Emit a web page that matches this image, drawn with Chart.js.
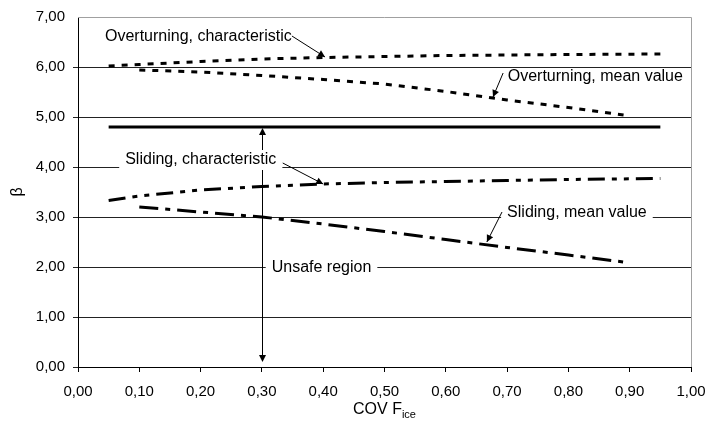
<!DOCTYPE html>
<html>
<head>
<meta charset="utf-8">
<script src="https://cdn.jsdelivr.net/npm/chart.js@4.4.1/dist/chart.umd.min.js"></script>
<style>
  html, body { margin: 0; padding: 0; background: #fff; }
  #wrap { width: 706px; height: 427px; }
</style>
</head>
<body>
<div id="wrap"><canvas id="c" width="706" height="427"></canvas></div>
<script>
// values
const xTicks = [0, 0.1, 0.2, 0.3, 0.4, 0.5, 0.6, 0.7, 0.8, 0.9, 1.0];
const yTicks = [0, 1, 2, 3, 4, 5, 6, 7];

const covOverChar = [0.05, 0.10, 0.20, 0.30, 0.40, 0.50, 0.60, 0.70, 0.80, 0.95];
const overChar    = [6.02, 6.05, 6.11, 6.16, 6.19, 6.21, 6.23, 6.24, 6.25, 6.26];

const covOverMean = [0.10, 0.20, 0.30, 0.40, 0.50, 0.60, 0.70, 0.80, 0.89];
const overMean    = [5.94, 5.90, 5.83, 5.75, 5.66, 5.51, 5.34, 5.19, 5.04];

const covTarget = [0.05, 0.95];
const target    = [4.80, 4.80];

const covSlideChar = [0.05, 0.10, 0.20, 0.30, 0.40, 0.50, 0.60, 0.70, 0.80, 0.95];
const slideChar    = [3.33, 3.42, 3.54, 3.61, 3.66, 3.69, 3.71, 3.73, 3.75, 3.77];

const covSlideMean = [0.10, 0.20, 0.30, 0.40, 0.50, 0.60, 0.70, 0.80, 0.89];
const slideMean    = [3.20, 3.10, 3.00, 2.86, 2.71, 2.55, 2.39, 2.24, 2.10];

// text notes: [label, text x, text y (centre), leader from, arrow tip, white box], in data units
const notes = [
  ["Overturning, characteristic", 0.044, 6.60, [0.349, 6.62], [0.403, 6.20], false],
  ["Overturning, mean value", 0.701, 5.80, [0.6935, 5.88], [0.677, 5.40], false],
  ["Sliding, characteristic", 0.077, 4.14, [0.334, 4.08], [0.400, 3.66], true],
  ["Sliding, mean value", 0.700, 3.08, [0.6917, 3.10], [0.667, 2.50], true],
  ["Unsafe region", 0.316, 1.98, null, null, true]
];
const unsafeArrow = [0.30, 4.80, 0.10];

function pts(xs, ys) {
  return xs.map((x, i) => ({ x: x, y: ys[i] }));
}
function fmt(v) {
  return v.toFixed(2).replace(".", ",");
}

const FONT = "'Liberation Sans', Arial, sans-serif";

function arrowHead(ctx, x0, y0, x1, y1, len, half) {
  const a = Math.atan2(y1 - y0, x1 - x0);
  ctx.beginPath();
  ctx.moveTo(x1, y1);
  ctx.lineTo(x1 - len * Math.cos(a) + half * Math.sin(a), y1 - len * Math.sin(a) - half * Math.cos(a));
  ctx.lineTo(x1 - len * Math.cos(a) - half * Math.sin(a), y1 - len * Math.sin(a) + half * Math.cos(a));
  ctx.closePath();
  ctx.fill();
}

const frame = {
  id: "frame",
  beforeDatasetsDraw(chart) {
    const { ctx, chartArea: a } = chart;
    ctx.save();
    ctx.strokeStyle = "#a0a0a0";
    ctx.lineWidth = 1;
    ctx.beginPath();
    ctx.moveTo(a.left, a.top + 0.5);
    ctx.lineTo(a.right + 0.5, a.top + 0.5);
    ctx.lineTo(a.right + 0.5, a.bottom);
    ctx.stroke();
    ctx.restore();
  },
  afterDatasetsDraw(chart) {
    const { ctx, scales } = chart;
    const sx = scales.x, sy = scales.y;
    ctx.save();
    ctx.fillStyle = "#000";
    ctx.strokeStyle = "#000";

    // vertical double arrow for the unsafe region
    const ux = Math.round(sx.getPixelForValue(unsafeArrow[0])) + 0.5;
    const uTop = sy.getPixelForValue(unsafeArrow[1]) + 1;
    const uBot = sy.getPixelForValue(unsafeArrow[2]);
    ctx.lineWidth = 1;
    ctx.beginPath();
    ctx.moveTo(ux, uTop + 4);
    ctx.lineTo(ux, uBot - 4);
    ctx.stroke();
    arrowHead(ctx, ux, uBot, ux, uTop, 7, 3.5);
    arrowHead(ctx, ux, uTop, ux, uBot, 7, 3.5);

    ctx.font = "16px " + FONT;
    ctx.textBaseline = "middle";
    ctx.textAlign = "left";
    notes.forEach(n => {
      const tx = sx.getPixelForValue(n[1]);
      const ty = sy.getPixelForValue(n[2]);
      const w = ctx.measureText(n[0]).width;
      if (n[5]) {
        ctx.fillStyle = "#fff";
        ctx.fillRect(tx - 6, ty - 10, w + 12, 20);
      }
      ctx.fillStyle = "#000";
      ctx.fillText(n[0], tx, ty);
      if (n[3]) {
        const x0 = sx.getPixelForValue(n[3][0]), y0 = sy.getPixelForValue(n[3][1]);
        const x1 = sx.getPixelForValue(n[4][0]), y1 = sy.getPixelForValue(n[4][1]);
        ctx.lineWidth = 1;
        ctx.beginPath();
        ctx.moveTo(x0, y0);
        ctx.lineTo(x1, y1);
        ctx.stroke();
        arrowHead(ctx, x0, y0, x1, y1, 7, 3.5);
      }
    });

    // axis titles
    ctx.font = "16px " + FONT;
    ctx.textAlign = "center";
    ctx.save();
    ctx.translate(18, (chart.chartArea.top + chart.chartArea.bottom) / 2);
    ctx.rotate(-Math.PI / 2);
    ctx.fillText("β", 0, 0);
    ctx.restore();

    const cx = (chart.chartArea.left + chart.chartArea.right) / 2;
    const main = "COV F";
    ctx.font = "16px " + FONT;
    const w1 = ctx.measureText(main).width;
    ctx.font = "11px " + FONT;
    const w2 = ctx.measureText("ice").width;
    const left = cx - (w1 + w2) / 2;
    ctx.textAlign = "left";
    ctx.font = "16px " + FONT;
    ctx.fillText(main, left, 410);
    ctx.font = "11px " + FONT;
    ctx.fillText("ice", left + w1, 415);
    ctx.restore();
  }
};

const dashStyle = {
  fill: false, pointRadius: 0, borderColor: "#000", borderWidth: 3,
  tension: 0, borderCapStyle: "butt"
};

new Chart(document.getElementById("c"), {
  type: "scatter",
  data: {
    datasets: [
      Object.assign({ label: "Overturning, characteristic", data: pts(covOverChar, overChar), showLine: true, borderDash: [6, 7] }, dashStyle),
      Object.assign({ label: "Overturning, mean value", data: pts(covOverMean, overMean), showLine: true, borderDash: [6, 7] }, dashStyle),
      Object.assign({ label: "Target", data: pts(covTarget, target), showLine: true, borderDash: [] }, dashStyle),
      Object.assign({ label: "Sliding, characteristic", data: pts(covSlideChar, slideChar), showLine: true, borderDash: [17, 7, 5, 7, 5, 7] }, dashStyle),
      Object.assign({ label: "Sliding, mean value", data: pts(covSlideMean, slideMean), showLine: true, borderDash: [19, 7, 5, 7] }, dashStyle)
    ]
  },
  options: {
    responsive: false,
    animation: false,
    devicePixelRatio: 1,
    layout: { padding: { top: 17, right: 15, left: 0, bottom: 0 } },
    plugins: { legend: { display: false }, tooltip: { enabled: false } },
    scales: {
      x: {
        type: "linear", min: 0, max: 1,
        afterBuildTicks: s => { s.ticks = xTicks.map(v => ({ value: v })); },
        afterFit: s => { s.height = 60; s.paddingRight = 0; s.paddingLeft = 0; },
        grid: { drawOnChartArea: false, drawTicks: true, tickLength: 5, color: "#000" },
        border: { color: "#000", width: 1 },
        ticks: { callback: v => fmt(v), color: "#000", font: { family: FONT, size: 15 }, padding: 11, maxRotation: 0 }
      },
      y: {
        type: "linear", min: 0, max: 7,
        afterBuildTicks: s => { s.ticks = yTicks.map(v => ({ value: v })); },
        afterFit: s => { s.width = 78; s.paddingTop = 0; s.paddingBottom = 0; },
        grid: {
          drawOnChartArea: true, drawTicks: true, tickLength: 5,
          color: c => (c.tick && c.tick.value === 7 ? "rgba(0,0,0,0)" : "#222")
        },
        border: { color: "#000", width: 1 },
        ticks: { callback: v => fmt(v), color: "#000", font: { family: FONT, size: 15 }, padding: 8 }
      }
    }
  },
  plugins: [frame]
});
</script>
</body>
</html>
